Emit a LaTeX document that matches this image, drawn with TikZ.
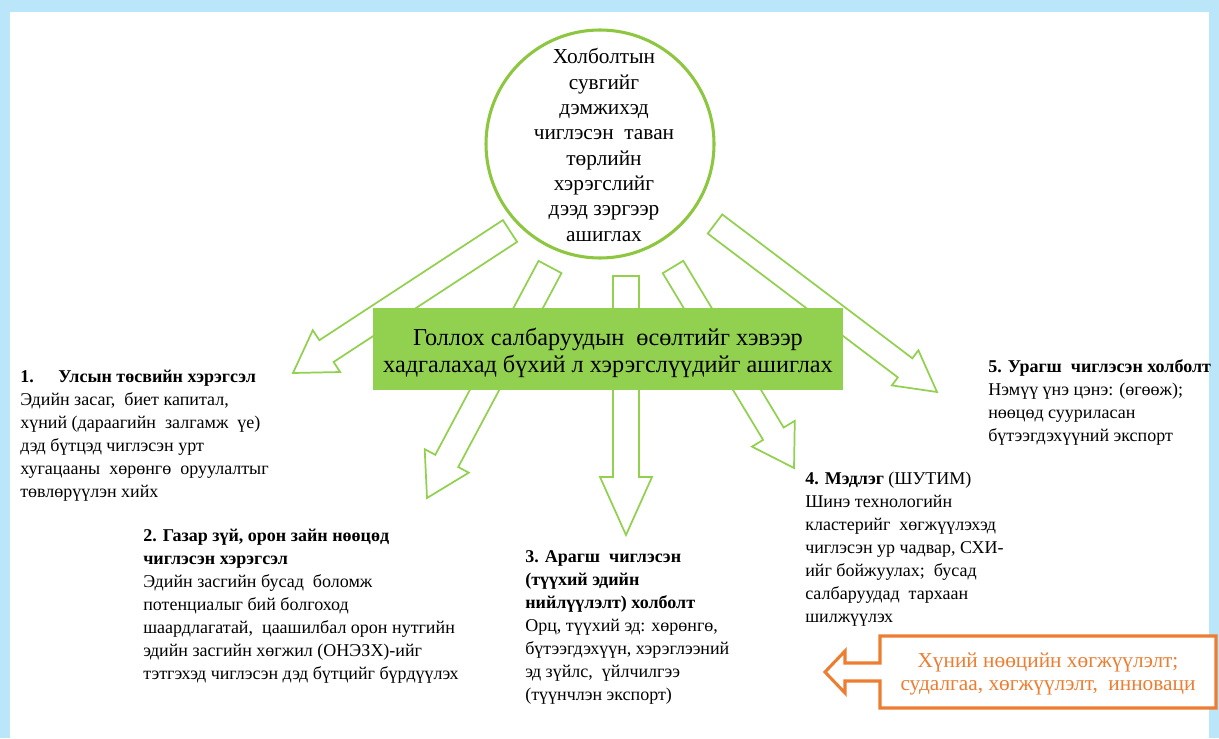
\documentclass[tikz,border=0pt]{standalone}
\usepackage{fontspec}
\setmainfont{LiberationSerif}[Extension=.ttf, UprightFont=*-Regular, BoldFont=*-Bold, ItalicFont=*-Italic, BoldItalicFont=*-BoldItalic]
\definecolor{skyb}{RGB}{187,229,248}
\definecolor{ringg}{RGB}{141,198,63}
\definecolor{boxg}{RGB}{146,208,80}
\definecolor{arrg}{RGB}{146,208,80}
\definecolor{orng}{RGB}{237,125,49}
\newcommand\blockarrow[7]{%
 \pgfmathsetmacro\BAdx{#3-#1}\pgfmathsetmacro\BAdy{#4-#2}%
 \pgfmathsetmacro\BAlen{veclen(\BAdx,\BAdy)}%
 \pgfmathsetmacro\BAang{atan2(-\BAdy,\BAdx)}%
 \pgfmathsetmacro\BAneck{\BAlen-#7}%
 \draw[arrowline, shift={(#1,#2)}, rotate=\BAang] (0,-#5) -- (\BAneck,-#5) -- (\BAneck,-#6) -- (\BAlen,0) -- (\BAneck,#6) -- (\BAneck,#5) -- (0,#5) -- cycle;}
\tikzset{
 arrowline/.style={draw=arrg, fill=white, line width=1.3pt, line join=miter},
 bodytext/.style={anchor=north west, inner sep=0pt, align=left, font=\fontsize{13.5pt}{17.25pt}\selectfont},
}
\begin{document}
\begin{tikzpicture}[x=0.75pt, y=-0.75pt]
\useasboundingbox (0,0) rectangle (1219,738);
\fill[skyb] (0,0) rectangle (1219,738);
\fill[white] (10,12) rectangle (1209,738);
% block arrows
\blockarrow{510}{231}{293}{373}{13}{25}{40}
\blockarrow{550}{267}{427}{498}{13}{25}{42}
\blockarrow{626}{276}{626}{535}{13}{26}{58}
\blockarrow{673}{267}{794}{468}{12}{25}{40}
\blockarrow{715}{224}{937}{392}{12}{22}{40}
% central circle
\draw[ringg, line width=2.3pt, fill=white] (600,144) circle [radius=114];
\node[align=center, inner sep=0pt, font=\fontsize{16pt}{19pt}\selectfont] (hub) at (604,145)
 {Холболтын\\сувгийг\\дэмжихэд\\чиглэсэн\ \ таван\\төрлийн\\хэрэгслийг\\дээд зэргээр\\ашиглах};
% green box
\fill[boxg] (373,308) rectangle (843,390);
\node[align=center, inner sep=0pt, font=\fontsize{18.2pt}{20.5pt}\selectfont] (goal) at (608,353)
 {Голлох салбаруудын\ \ өсөлтийг хэвээр\\хадгалахад бүхий л хэрэгслүүдийг ашиглах};
% text blocks
\node[bodytext] (t1) at (20,370)
 {\textbf{\makebox[28.5pt][l]{1.}Улсын төсвийн хэрэгсэл}\\Эдийн засаг,\ \ биет капитал,\\хүний (дараагийн\ \ залгамж\ \ үе)\\дэд бүтцэд чиглэсэн урт\\хугацааны\ \ хөрөнгө\ \ оруулалтыг\\төвлөрүүлэн хийх};
\node[bodytext] (t2) at (143,529)
 {\textbf{2. Газар зүй, орон зайн нөөцөд}\\\textbf{чиглэсэн хэрэгсэл}\\Эдийн засгийн бусад\ \ боломж\\потенциалыг бий болгоход\\шаардлагатай,\ \ цаашилбал орон нутгийн\\эдийн засгийн хөгжил (ОНЭЗХ)-ийг\\тэтгэхэд чиглэсэн дэд бүтцийг бүрдүүлэх};
\node[bodytext] (t3) at (525,550)
 {\textbf{3. Арагш\ \ чиглэсэн}\\\textbf{(түүхий эдийн}\\\textbf{нийлүүлэлт) холболт}\\Орц, түүхий эд: хөрөнгө,\\бүтээгдэхүүн, хэрэглээний\\эд зүйлс,\ \ үйлчилгээ\\(түүнчлэн экспорт)};
\node[bodytext] (t4) at (805,472)
 {\textbf{4. Мэдлэг} (ШУТИМ)\\Шинэ технологийн\\кластерийг\ \ хөгжүүлэхэд\\чиглэсэн ур чадвар, СХИ-\\ийг бойжуулах;\ \ бусад\\салбаруудад\ \ тархаан\\шилжүүлэх};
\node[bodytext] (t5) at (988,359)
 {\textbf{5. Урагш\ \ чиглэсэн холболт}\\Нэмүү үнэ цэнэ: (өгөөж);\\нөөцөд сууриласан\\бүтээгдэхүүний экспорт};
% orange callout
\draw[orng, line width=2.3pt, fill=white, line join=miter] (880,636) -- (1216,636) -- (1216,708) -- (880,708) -- (880,681) -- (845,681) -- (845,693) -- (825,672) -- (845,651) -- (845,663) -- (880,663) -- cycle;
\node[align=center, inner sep=0pt, text=orng, font=\fontsize{16pt}{17.5pt}\selectfont] (hr) at (1048,674)
 {Хүний нөөцийн хөгжүүлэлт;\\судалгаа, хөгжүүлэлт,\ \ инноваци};
\end{tikzpicture}
\end{document}
